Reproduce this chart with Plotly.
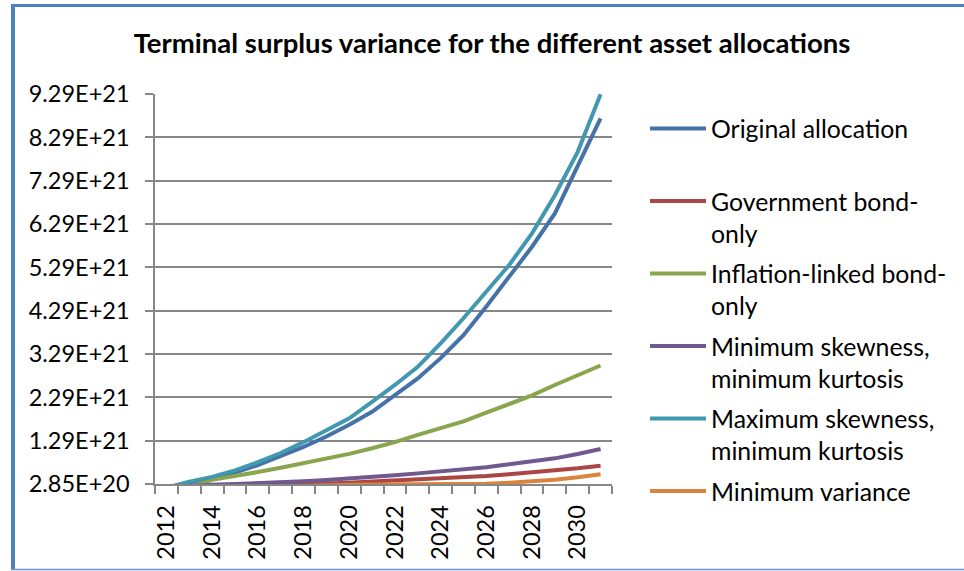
import plotly.graph_objects as go

# Terminal surplus variance per asset allocation, in units of 1E+21
SCALE = 1e21
years = list(range(2012, 2032))

original_allocation = [0.18, 0.32, 0.41, 0.55, 0.72, 0.92, 1.14, 1.38, 1.65, 1.95,
                       2.34, 2.72, 3.19, 3.72, 4.38, 5.07, 5.76, 6.53, 7.61, 8.72]
government_bond = [0.15, 0.18, 0.20, 0.22, 0.24, 0.255, 0.27, 0.293, 0.316, 0.34,
                   0.362, 0.39, 0.416, 0.44, 0.47, 0.508, 0.547, 0.593, 0.647, 0.708]
inflation_linked = [0.10, 0.21, 0.38, 0.46, 0.56, 0.66, 0.76, 0.86, 0.98, 1.11,
                    1.25, 1.42, 1.57, 1.73, 1.93, 2.12, 2.33, 2.57, 2.80, 3.02]
min_skew_min_kurt = [0.20, 0.24, 0.27, 0.283, 0.30, 0.32, 0.35, 0.377, 0.41, 0.44,
                     0.485, 0.53, 0.577, 0.62, 0.67, 0.739, 0.80, 0.877, 0.977, 1.093]
max_skew_min_kurt = [0.20, 0.34, 0.45, 0.60, 0.79, 1.00, 1.25, 1.52, 1.80, 2.18,
                     2.57, 2.99, 3.53, 4.11, 4.72, 5.34, 6.07, 6.95, 7.95, 9.28]
minimum_variance = [0.12, 0.15, 0.17, 0.19, 0.21, 0.23, 0.25, 0.262, 0.27, 0.275,
                    0.278, 0.28, 0.282, 0.285, 0.293, 0.316, 0.347, 0.385, 0.439, 0.508]

series_names = ["Original allocation<br> ", "Government bond-<br>only",
                "Inflation-linked bond-<br>only", "Minimum skewness,<br>minimum kurtosis",
                "Maximum skewness,<br>minimum kurtosis", "Minimum variance"]
series_values = [original_allocation, government_bond, inflation_linked,
                 min_skew_min_kurt, max_skew_min_kurt, minimum_variance]
series_colors = ["#4572A7", "#AA4643", "#89A54E", "#71588F", "#4198AF", "#DB843D"]

# Value axis: ticks every 1E+21 starting at 2.85E+20
y_tick_values = [0.285, 1.285, 2.285, 3.285, 4.285, 5.285, 6.285, 7.285, 8.285, 9.285]
y_tick_labels = ["2.85E+20", "1.29E+21", "2.29E+21", "3.29E+21", "4.29E+21",
                 "5.29E+21", "6.29E+21", "7.29E+21", "8.29E+21", "9.29E+21"]
x_tick_years = list(range(2012, 2031, 2))

FONT = "Lato, 'Open Sans', sans-serif"
AXIS_GREY = "#878787"

fig = go.Figure()
for i, (name, vals, color) in enumerate(zip(series_names, series_values, series_colors)):
    fig.add_trace(go.Scatter(
        x=years, y=[v * SCALE for v in vals], name=name, mode="lines",
        legendgroup=f"g{i}",
        line=dict(color=color, width=4, shape="linear"),
    ))

# Plot-area geometry in pixels
W, H = 964, 571
L, R, T, B = 155, 352, 94, 87
pw, ph = W - L - R, H - T - B

def px_x(p):
    return (p - L) / pw

def px_y(p):
    return (H - B - p) / ph

fig.update_layout(
    width=W, height=H,
    margin=dict(l=L, r=R, t=T, b=B),
    paper_bgcolor="white", plot_bgcolor="white",
    font=dict(family=FONT, color="black"),
    title=dict(
        text="<b>Terminal surplus variance for the different asset allocations</b>",
        font=dict(family=FONT, size=27.5, color="black"),
        x=492 / W, xanchor="center", xref="container",
        y=1 - 43 / H, yanchor="middle", yref="container",
    ),
    showlegend=True,
    legend=dict(
        x=645 / W, xref="container", xanchor="left",
        y=1 - 106 / H, yref="container", yanchor="top",
        font=dict(family=FONT, size=24.8, color="black"),
        valign="top", itemwidth=56, tracegroupgap=5, maxheight=1,
        bgcolor="rgba(0,0,0,0)", borderwidth=0,
    ),
    xaxis=dict(
        range=[2011.5, 2031.5], showgrid=False, zeroline=False,
        showline=True, linecolor=AXIS_GREY, linewidth=1.5,
        tickmode="array", tickvals=x_tick_years, ticktext=[str(y) for y in x_tick_years],
        ticks="", tickangle=-90, ticklabelstandoff=10,
        tickfont=dict(family=FONT, size=23.5, color="black"),
        minor=dict(tickmode="array", tickvals=[y - 0.5 for y in range(2012, 2033)],
                   ticks="outside", ticklen=8, tickcolor=AXIS_GREY, tickwidth=1.5,
                   showgrid=False),
    ),
    yaxis=dict(
        range=[0.285 * SCALE, 9.285 * SCALE], zeroline=False,
        showline=True, linecolor=AXIS_GREY, linewidth=1.5,
        showgrid=True, gridcolor=AXIS_GREY, gridwidth=1.5,
        tickmode="array", tickvals=[v * SCALE for v in y_tick_values], ticktext=y_tick_labels,
        ticks="outside", ticklen=8, tickcolor=AXIS_GREY, tickwidth=1.5,
        ticklabelstandoff=11,
        tickfont=dict(family=FONT, size=23.5, color="black"),
    ),
)

# Chart frame
BORDER = "#4F81BD"
fig.add_shape(type="line", xref="paper", yref="paper", layer="above",
              x0=px_x(13), x1=px_x(13), y0=px_y(4), y1=px_y(570),
              line=dict(color=BORDER, width=4))
fig.add_shape(type="line", xref="paper", yref="paper", layer="above",
              x0=px_x(11), x1=px_x(990), y0=px_y(5.5), y1=px_y(5.5),
              line=dict(color=BORDER, width=3))
fig.add_shape(type="line", xref="paper", yref="paper", layer="above",
              x0=px_x(11), x1=px_x(990), y0=px_y(569.5), y1=px_y(569.5),
              line=dict(color="#6A95CC", width=1.5))

fig.write_html("out.html")
